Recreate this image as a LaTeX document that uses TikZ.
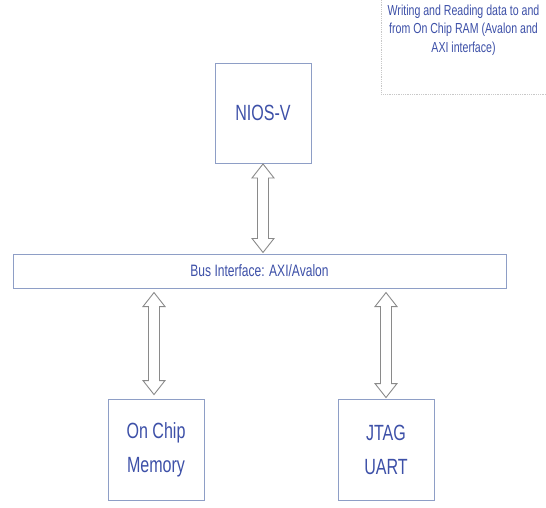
\documentclass[tikz,border=0pt]{standalone}
\usepackage{fontspec}
\setmainfont{Liberation Sans}[FakeStretch=0.73]
\usetikzlibrary{calc}
\definecolor{txtblue}{HTML}{3D50A8}
\definecolor{boxline}{HTML}{8E9EC6}
\definecolor{arrline}{HTML}{8A8A8A}
\definecolor{noteline}{HTML}{C8C8C8}
\tikzset{
  blockbox/.style={draw=boxline, line width=0.9pt, fill=white, text=txtblue, align=center, inner sep=0pt},
  fatarrow/.style={draw=arrline, line width=0.9pt, fill=white, line join=miter},
  notebox/.style={draw=noteline, densely dotted, line width=0.8pt}
}
% hollow double arrow between two named points (#1 top, #2 bottom)
\newcommand{\hollowdbl}[2]{%
  \draw[fatarrow] let \p1=(#1), \p2=(#2) in
    (\x1,\y1) -- (\x1+11pt,\y1-14pt) -- (\x1+5.5pt,\y1-14pt) -- (\x1+5.5pt,\y2+14pt)
    -- (\x1+11pt,\y2+14pt) -- (\x1,\y2) -- (\x1-11pt,\y2+14pt) -- (\x1-5.5pt,\y2+14pt)
    -- (\x1-5.5pt,\y1-14pt) -- (\x1-11pt,\y1-14pt) -- cycle;}
\begin{document}
\begin{tikzpicture}[x=1pt,y=-1pt]
  \useasboundingbox (0,0) rectangle (546,507);
  \fill[white] (0,0) rectangle (546,507);
  % note
  \begin{scope}
    \clip (0,0) rectangle (546,507);
    \node[notebox, minimum width=170pt, minimum height=105pt, anchor=south west] (notefr) at (381,95) {};
  \end{scope}
  \node[anchor=north, align=center, inner sep=0pt, text=txtblue,
        font=\fontsize{14.5}{18.5}\selectfont] (note) at (463.5,4.5)
        {Writing and Reading data to and\\from On Chip RAM (Avalon and\\AXI interface)};
  % blocks
  \node[blockbox, minimum width=96pt, minimum height=100pt, font=\fontsize{22}{34}\selectfont] (nios) at (263,113) {NIOS-V};
  \node[blockbox, minimum width=493pt, minimum height=34pt, font=\fontsize{16.5}{18}\selectfont] (bus) at (259.5,271) {Bus Interface: AXI/Avalon};
  \node[blockbox, minimum width=96pt, minimum height=101pt, font=\fontsize{22}{34}\selectfont] (mem) at (156,449.5) {On Chip\\Memory};
  \node[blockbox, minimum width=96pt, minimum height=101pt, font=\fontsize{22}{34}\selectfont] (jtag) at (386,449.5) {JTAG\\UART};
  % arrow end points
  \coordinate (n1) at ($(nios.south)+(0,0.5)$);
  \coordinate (n2) at ($(bus.north|-nios.south)+(0,89)$);
  \coordinate (m1) at ($(mem.north)+(-2,-106)$);
  \coordinate (m2) at ($(mem.north)+(-2,-4)$);
  \coordinate (j1) at ($(jtag.north)+(0,-106)$);
  \coordinate (j2) at ($(jtag.north)+(0,-1)$);
  \hollowdbl{n1}{n2}
  \hollowdbl{m1}{m2}
  \hollowdbl{j1}{j2}
\end{tikzpicture}
\end{document}
